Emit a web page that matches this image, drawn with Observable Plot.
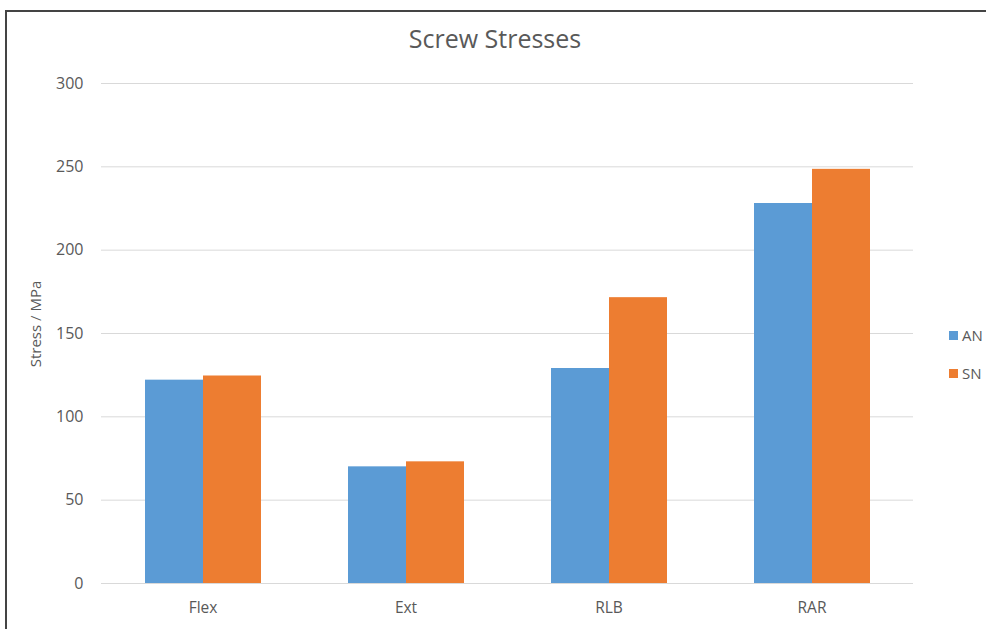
<!DOCTYPE html>
<html>
<head>
<meta charset="utf-8">
<script src="https://cdn.jsdelivr.net/npm/d3@7"></script>
<script src="https://cdn.jsdelivr.net/npm/@observablehq/plot@0.6"></script>
<style>
  html, body { margin: 0; padding: 0; background: #fff; }
  body { width: 986px; height: 629px; overflow: hidden; position: relative; font-family: "Open Sans", sans-serif; }
  #frame { position: absolute; left: 5px; top: 10px; width: 1200px; height: 800px; border-left: 2px solid #444; border-top: 2px solid #444; box-sizing: border-box; pointer-events: none; }
  #title { height: 60px; line-height: 76px; text-align: center; font-size: 25px; color: #595959; padding-left: 4px; }
  #legend { position: absolute; left: 949px; top: 316px; font-size: 15px; color: #595959; }
  .item { display: flex; align-items: center; height: 38px; }
  .sw { width: 9px; height: 9px; margin-right: 4px; }
</style>
</head>
<body>
<div id="title">Screw Stresses</div>
<div id="chart"></div>
<div id="legend"></div>
<div id="frame"></div>
<script>
const categories = ["Flex", "Ext", "RLB", "RAR"];
const seriesNames = ["AN", "SN"];
const anValues = [122, 70, 129, 228];
const snValues = [124.5, 73, 171.5, 248.5];
const yTicks = [0, 50, 100, 150, 200, 250, 300];
const colors = ["#5B9BD5", "#ED7D31"];

const data = [];
categories.forEach((c, i) => {
  data.push({category: c, series: seriesNames[0], value: anValues[i]});
  data.push({category: c, series: seriesNames[1], value: snValues[i]});
});

const chart = Plot.plot({
  width: 986,
  height: 569,
  marginLeft: 100,
  marginRight: 72,
  marginTop: 23,
  marginBottom: 46,
  style: {fontFamily: "Open Sans, sans-serif", fontSize: "16px", color: "#595959", background: "transparent"},
  fx: {domain: categories, padding: 0, label: null},
  x: {domain: seriesNames, paddingInner: 0, paddingOuter: 0.744, axis: null},
  y: {domain: [0, 300], ticks: yTicks},
  color: {domain: seriesNames, range: colors},
  marks: [
    Plot.ruleY(yTicks, {stroke: "#d9d9d9", strokeWidth: 1}),
    Plot.barY(data, {fx: "category", x: "series", y: "value", fill: "series"}),
    Plot.axisFx({anchor: "bottom", tickSize: 0, tickPadding: 18, fontSize: 15.5, label: null}),
    Plot.axisY(yTicks, {tickSize: 0, tickPadding: 18, fontSize: 16, label: null})
  ]
});
document.getElementById("chart").appendChild(chart);

// y-axis label as SVG text
const svg = d3.select(chart);
svg.append("text")
  .attr("transform", "translate(41,264) rotate(-90)")
  .attr("text-anchor", "middle")
  .attr("fill", "#595959")
  .style("font-size", "15px")
  .style("font-family", "Open Sans, sans-serif")
  .text("Stress / MPa");

const legend = d3.select("#legend");
seriesNames.forEach((s, i) => {
  const item = legend.append("div").attr("class", "item");
  item.append("div").attr("class", "sw").style("background", colors[i]);
  item.append("span").text(s);
});
</script>
</body>
</html>
